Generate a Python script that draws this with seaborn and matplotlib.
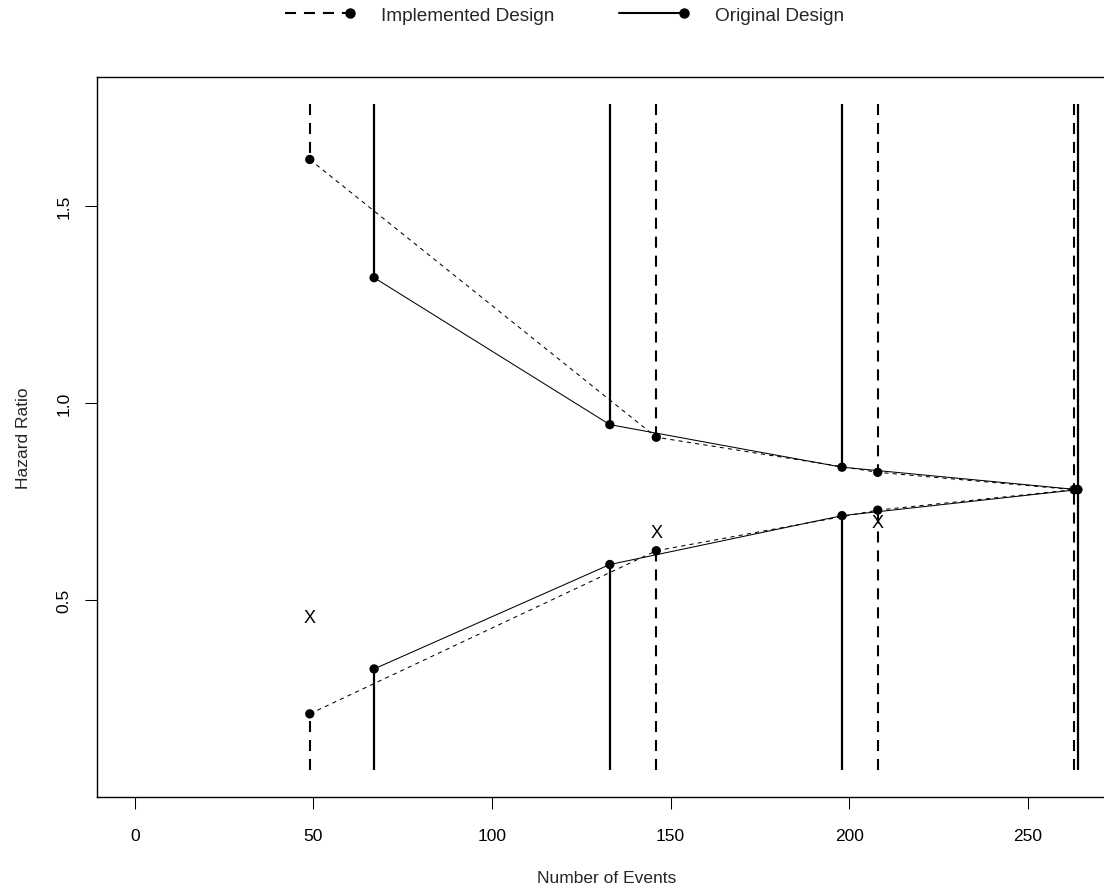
import matplotlib
matplotlib.use("Agg")
import matplotlib.pyplot as plt
from matplotlib.lines import Line2D
from matplotlib.legend_handler import HandlerLine2D
import seaborn as sns
import pandas as pd

# Group-sequential boundaries on the hazard-ratio scale
impl_events = [49, 146, 208, 263]
impl_upper = [1.618, 0.913, 0.824, 0.780]
impl_lower = [0.211, 0.625, 0.728, 0.780]

orig_events = [67, 133, 198, 264]
orig_upper = [1.318, 0.945, 0.837, 0.780]
orig_lower = [0.325, 0.590, 0.714, 0.780]

# Observed hazard ratios at the interim analyses
obs_events = [49, 146, 208]
obs_hr = [0.456, 0.672, 0.697]

# Outer extent of the boundary stems
line_bottom = 0.068
line_top = 1.760

x_ticks = [0, 50, 100, 150, 200, 250]
y_ticks = [0.5, 1.0, 1.5]

sns.set_theme(style="white")
plt.rcParams["font.family"] = ["Liberation Sans", "DejaVu Sans"]

fig = plt.figure(figsize=(11.04, 8.95), dpi=100)
ax = fig.add_axes([0.0879, 0.1084, 0.9225, 0.8045])

impl = pd.DataFrame({"events": impl_events, "upper": impl_upper, "lower": impl_lower})
orig = pd.DataFrame({"events": orig_events, "upper": orig_upper, "lower": orig_lower})

thin_dash = (4, 4)
thick_dash = (5.3, 3.8)

# stems: from the edge of the region in to each boundary
ax.vlines(impl["events"], line_top, impl["upper"], colors="black",
          linewidth=1.5, linestyles=[(0, thick_dash)])
ax.vlines(impl["events"], line_bottom, impl["lower"], colors="black",
          linewidth=1.5, linestyles=[(0, thick_dash)])
ax.vlines(orig["events"], line_top, orig["upper"], colors="black",
          linewidth=1.6, linestyles="solid")
ax.vlines(orig["events"], line_bottom, orig["lower"], colors="black",
          linewidth=1.6, linestyles="solid")

# boundary curves
for col in ["upper", "lower"]:
    sns.lineplot(data=impl, x="events", y=col, ax=ax, color="black",
                 linewidth=0.75, estimator=None, sort=False,
                 linestyle=(0, thin_dash))
    sns.lineplot(data=orig, x="events", y=col, ax=ax, color="black",
                 linewidth=0.75, estimator=None, sort=False)
    sns.scatterplot(data=impl, x="events", y=col, ax=ax, color="black",
                    s=45, edgecolor="none", zorder=5)
    sns.scatterplot(data=orig, x="events", y=col, ax=ax, color="black",
                    s=45, edgecolor="none", zorder=5)

# observed values
for xe, yh in zip(obs_events, obs_hr):
    ax.text(xe, yh, "X", ha="center", va="center", fontsize=13, color="black")

ax.set_xlim(-10.56, 274.56)
ax.set_ylim(0.0, 1.8274)
ax.set_xticks(x_ticks)
ax.set_xticklabels([str(t) for t in x_ticks])
ax.set_yticks(y_ticks)
ax.set_yticklabels([f"{t:.1f}" for t in y_ticks], rotation=90, va="center")
ax.tick_params(axis="x", direction="out", length=8.6, width=0.75,
               colors="black", labelsize=12.5, pad=14, bottom=True)
ax.tick_params(axis="y", direction="out", length=8.6, width=0.75,
               colors="black", labelsize=12.5, pad=10, left=True)
ax.set_xlabel("Number of Events", fontsize=12.5, labelpad=19)
ax.set_ylabel("Hazard Ratio", fontsize=12.5, labelpad=18)

for side in ["left", "top", "bottom"]:
    ax.spines[side].set_visible(True)
    ax.spines[side].set_color("black")
    ax.spines[side].set_linewidth(1.0)
ax.spines["right"].set_visible(False)


class EndMarkerHandler(HandlerLine2D):
    """Legend line with its marker only at the right-hand end."""

    def create_artists(self, legend, orig_handle, xdescent, ydescent,
                       width, height, fontsize, trans):
        artists = super().create_artists(legend, orig_handle, xdescent,
                                         ydescent, width, height, fontsize,
                                         trans)
        if len(artists) == 1:
            line = artists[0]
            line.set_markevery([len(line.get_xdata()) - 1])
        else:
            marker_line = artists[-1]
            xs, ys = marker_line.get_data()
            marker_line.set_data([xs[-1]], [ys[-1]])
        return artists


handles = [
    Line2D([], [], color="black", linewidth=1.5, linestyle=(0, thick_dash),
           marker="o", markersize=6.5),
    Line2D([], [], color="black", linewidth=1.5, linestyle="solid",
           marker="o", markersize=6.5),
]
fig.legend(handles, ["Implemented Design", "Original Design"], loc="center",
           bbox_to_anchor=(0.509, 0.982), ncol=2, frameon=False, numpoints=2,
           fontsize=13.7, handlelength=4.0, handletextpad=1.35, columnspacing=3.1,
           handler_map={Line2D: EndMarkerHandler()})

fig.savefig("out.png", dpi=100)
